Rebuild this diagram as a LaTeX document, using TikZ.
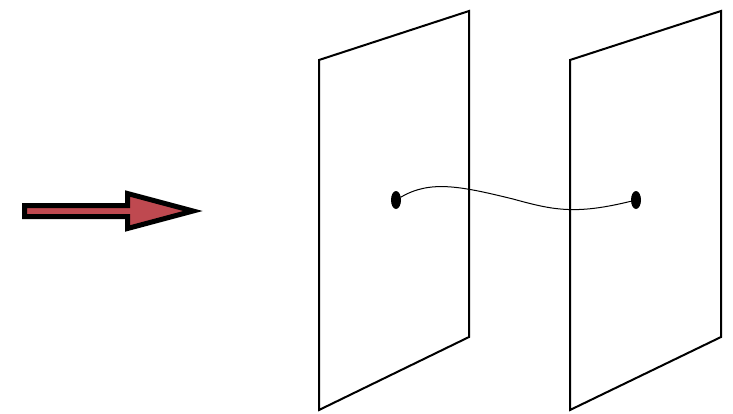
\documentclass[tikz,border=0pt]{standalone}
\usetikzlibrary{shapes.geometric}

\definecolor{arrowred}{RGB}{191,73,80}

\begin{document}
\begin{tikzpicture}[x=1pt, y=-1pt, line join=miter,
  plane/.style={draw=black, line width=2pt},
  dot/.style={ellipse, fill=black, inner sep=0pt, minimum width=10pt, minimum height=18pt}]
  \useasboundingbox (0,0) rectangle (733,413);
  % incoming arrow
  \draw[line width=5pt, fill=arrowred] (24.5,205.5) -- (127.5,205.5) -- (127.5,193.5)
    -- (193,211) -- (127.5,228.5) -- (127.5,216.5) -- (24.5,216.5) -- cycle;
  % first plane
  \draw[plane] (319,60) -- (469,11) -- (469,337) -- (319,410) -- cycle;
  % second plane
  \draw[plane] (570,60) -- (721,11) -- (721,337) -- (570,410) -- cycle;
  % the two points and the string between them
  \node[dot] (p1) at (396,200) {};
  \node[dot] (p2) at (636,200) {};
  \draw[line width=1pt] (p1) .. controls (430,180) and (460,186) .. (513,199)
    .. controls (553,210) and (575,215) .. (p2);
\end{tikzpicture}
\end{document}
